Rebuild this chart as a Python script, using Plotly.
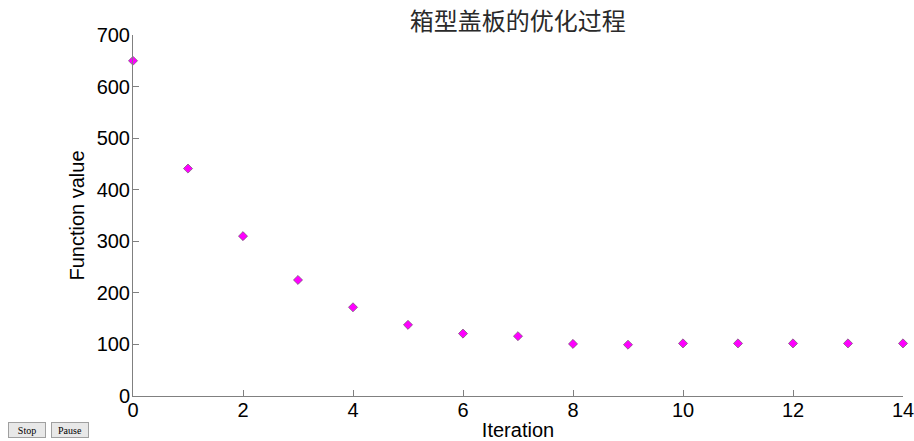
import plotly.graph_objects as go

iterations = list(range(15))
function_values = [650, 441, 310, 225, 172, 138, 121, 116, 101, 99.5, 102, 102, 102, 102, 102]
x_ticks = [0, 2, 4, 6, 8, 10, 12, 14]
y_ticks = [0, 100, 200, 300, 400, 500, 600, 700]
title_text = "箱型盖板的优化过程"
button_labels = ["Stop", "Pause"]

fig = go.Figure()
fig.add_trace(go.Scatter(
    x=iterations, y=function_values, mode="markers",
    marker=dict(symbol="diamond", size=7, color="#ff00ff",
                line=dict(color="#555555", width=0.6)),
    cliponaxis=False, showlegend=False,
))

axis_common = dict(
    showgrid=False, zeroline=False, showline=True, linecolor="#808080", linewidth=1,
    ticks="inside", ticklen=6, tickcolor="#808080", tickwidth=1,
    tickfont=dict(family="Liberation Sans, Arial", size=20, color="black"),
    mirror=False, automargin=False, ticklabeloverflow="allow",
)

fig.update_layout(
    width=914, height=441,
    margin=dict(l=133, r=11, t=35, b=45),
    paper_bgcolor="white", plot_bgcolor="white",
    title=dict(text=title_text, x=0.5665, xanchor="center", y=0.95, yanchor="middle",
               font=dict(family="Noto Sans CJK SC", size=24, color="#2a2a2a")),
    xaxis=dict(range=[0, 14], tickvals=x_ticks, **axis_common, ticklabelstandoff=-4,
               title=dict(text="Iteration", standoff=8,
                          font=dict(family="Liberation Sans, Arial", size=20, color="black"))),
    yaxis=dict(range=[0, 700], tickvals=y_ticks, **axis_common, ticklabelstandoff=-2,
               title=dict(text="Function value", standoff=6,
                          font=dict(family="Liberation Sans, Arial", size=20, color="black"))),
)

btn_x = [8, 51]
btn_w = [38, 38]
for lbl, bx, bw in zip(button_labels, btn_x, btn_w):
    fig.add_annotation(
        xref="paper", yref="paper",
        x=(bx + bw / 2 - 133) / 770, y=-(430 - 396) / 361,
        text=lbl, showarrow=False, xanchor="center", yanchor="middle",
        width=bw - 2, height=14,
        bgcolor="#e8e8e8", bordercolor="#a0a0a0", borderwidth=1, borderpad=0,
        font=dict(family="Liberation Serif", size=10, color="black"),
    )

fig.write_html("out.html")
